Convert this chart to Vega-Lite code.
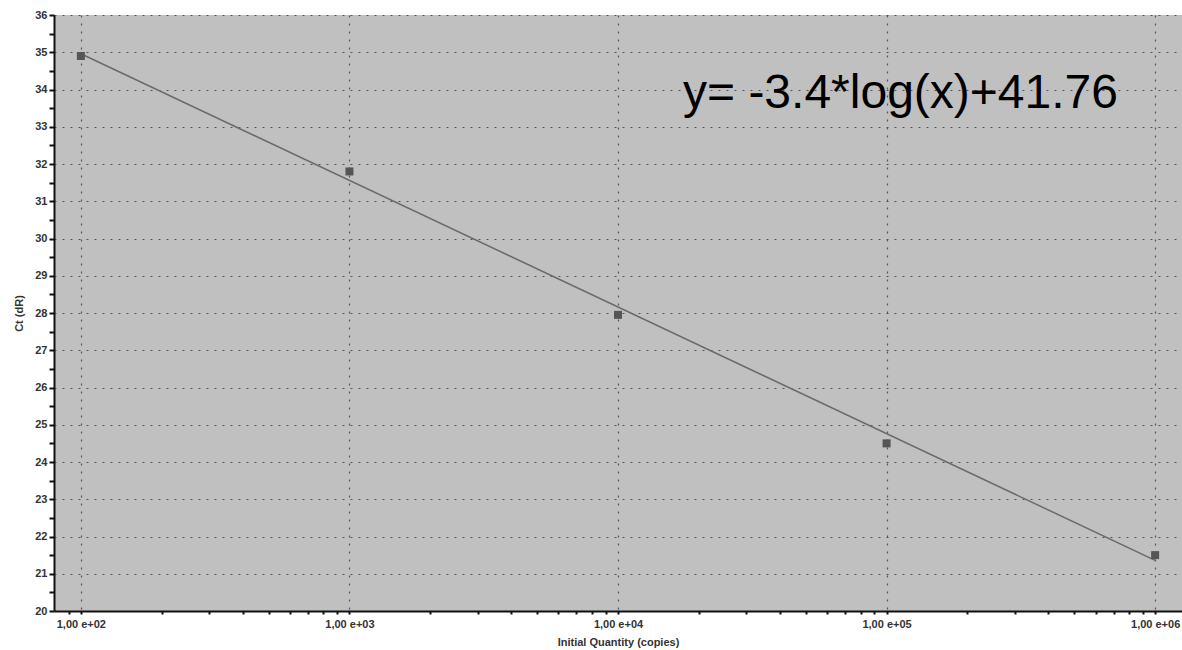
{
  "$schema": "https://vega.github.io/schema/vega-lite/v6.json",
  "width": 1128,
  "height": 596,
  "autosize": "none",
  "padding": {"left": 54, "top": 15, "right": 0, "bottom": 39},
  "background": "white",
  "config": {
    "view": {"fill": "#c0c0c0", "stroke": null},
    "axis": {
      "labelFont": "Liberation Sans",
      "labelFontWeight": "bold",
      "labelFontSize": 11,
      "labelColor": "#333333",
      "titleFont": "Liberation Sans",
      "titleFontWeight": "bold",
      "titleFontSize": 11,
      "titleColor": "#333333",
      "domainColor": "#111111",
      "domainWidth": 2,
      "tickColor": "#111111",
      "tickWidth": 2,
      "gridColor": "#555555",
      "gridDash": [2, 6],
      "gridWidth": 1.2,
      "labelOverlap": false,
      "labelFlush": false
    }
  },
  "datasets": {
    "standards": [
      {"quantity": 100, "ct": 34.9},
      {"quantity": 1000, "ct": 31.8},
      {"quantity": 10000, "ct": 27.95},
      {"quantity": 100000, "ct": 24.5},
      {"quantity": 1000000, "ct": 21.5}
    ],
    "fit": [
      {"quantity": 100, "ct": 34.96},
      {"quantity": 1000000, "ct": 21.36}
    ],
    "equation": [
      {"quantity": 17460, "ct": 33.5, "label": "y= -3.4*log(x)+41.76"}
    ]
  },
  "encoding": {
    "x": {
      "field": "quantity",
      "type": "quantitative",
      "scale": {"type": "log", "domain": [79.43, 1258925], "nice": false, "zero": false},
      "axis": {
        "title": "Initial Quantity (copies)",
        "titlePadding": 7,
        "values": [90, 100, 200, 300, 400, 500, 600, 700, 800, 900,
                   1000, 2000, 3000, 4000, 5000, 6000, 7000, 8000, 9000,
                   10000, 20000, 30000, 40000, 50000, 60000, 70000, 80000, 90000,
                   100000, 200000, 300000, 400000, 500000, 600000, 700000, 800000, 900000,
                   1000000],
        "labelExpr": "abs(log(datum.value)/LN10 - round(log(datum.value)/LN10)) < 0.001 ? '1,00 e+0' + round(log(datum.value)/LN10) : ''",
        "grid": true,
        "gridOpacity": {"condition": {"test": "abs(log(datum.value)/LN10 - round(log(datum.value)/LN10)) < 0.001", "value": 1}, "value": 0},
        "tickSize": 3,
        "labelPadding": 4
      }
    },
    "y": {
      "field": "ct",
      "type": "quantitative",
      "scale": {"domain": [20, 36], "nice": false, "zero": false},
      "axis": {
        "title": "Ct (dR)",
        "titlePadding": 10,
        "values": [20, 20.5, 21, 21.5, 22, 22.5, 23, 23.5, 24, 24.5, 25, 25.5, 26, 26.5, 27, 27.5, 28, 28.5,
                   29, 29.5, 30, 30.5, 31, 31.5, 32, 32.5, 33, 33.5, 34, 34.5, 35, 35.5, 36],
        "labelExpr": "datum.value % 1 == 0 ? format(datum.value, 'd') : ''",
        "grid": true,
        "gridOpacity": {"condition": {"test": "datum.value % 1 == 0", "value": 1}, "value": 0},
        "tickSize": 5,
        "labelPadding": 2
      }
    }
  },
  "layer": [
    {
      "data": {"name": "fit"},
      "mark": {"type": "line", "color": "#6a6a6a", "strokeWidth": 1.5}
    },
    {
      "data": {"name": "standards"},
      "mark": {"type": "square", "size": 64, "color": "#555555", "filled": true, "opacity": 1}
    },
    {
      "data": {"name": "equation"},
      "mark": {"type": "text", "font": "Liberation Sans", "fontSize": 48, "color": "black", "align": "left", "baseline": "alphabetic"},
      "encoding": {"text": {"field": "label"}}
    }
  ]
}
